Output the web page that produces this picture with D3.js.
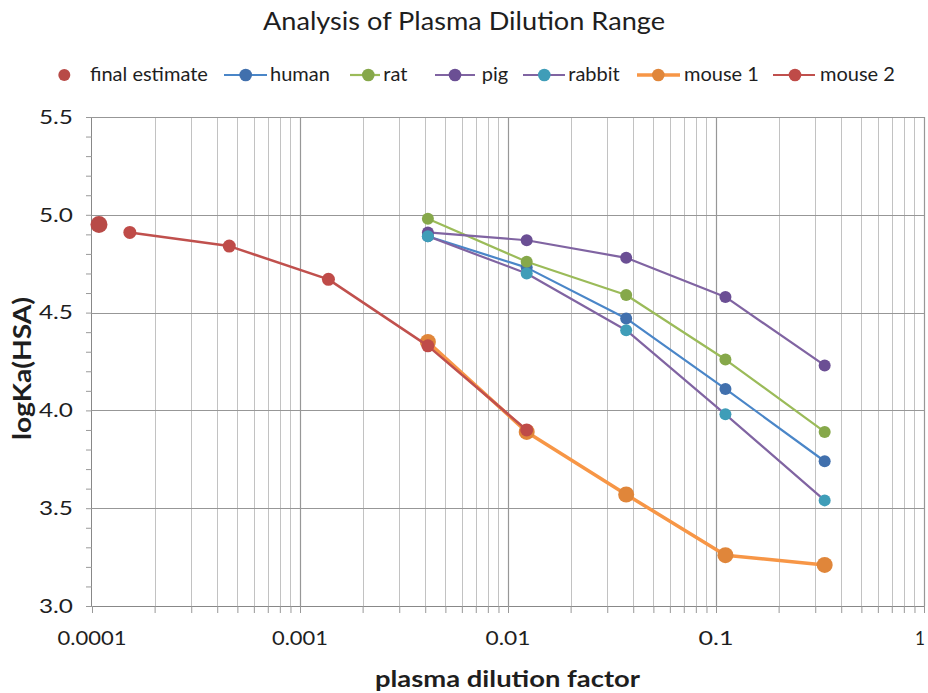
<!DOCTYPE html>
<html>
<head>
<meta charset="utf-8">
<script src="https://cdn.jsdelivr.net/npm/d3@7"></script>
<style>
  html, body { margin: 0; padding: 0; background: #ffffff; }
  svg { display: block; }
  text { font-family: Lato, "Open Sans", sans-serif; fill: #1e1e1e; }
</style>
</head>
<body>
<svg id="chart" width="928" height="693"></svg>
<script>
// ---- Data ----
const seriesNames = ["final estimate", "human", "rat", "pig", "rabbit", "mouse 1", "mouse 2"];
const dilutionX = [0.00412, 0.0123, 0.037, 0.111, 0.333];
const mouse2X = [0.000152, 0.000457, 0.00137, 0.00412, 0.0123];
const finalX = [0.000108];
const finalY = [4.95];
const humanY = [4.89, 4.73, 4.47, 4.11, 3.74];
const ratY = [4.98, 4.76, 4.59, 4.26, 3.89];
const pigY = [4.91, 4.87, 4.78, 4.58, 4.23];
const rabbitY = [4.89, 4.70, 4.41, 3.98, 3.54];
const mouse1Y = [4.35, 3.89, 3.57, 3.26, 3.21];
const mouse2Y = [4.91, 4.84, 4.67, 4.33, 3.90];
const xTickLabels = ["0.0001", "0.001", "0.01", "0.1", "1"];
const yTickLabels = ["3.0", "3.5", "4.0", "4.5", "5.0", "5.5"];

(function () {
// ---- Styles ----
const styles = {
  "final estimate": { line: null, marker: "#B84A47", r: 8.5, w: 0 },
  "human":   { line: "#4A86C8", marker: "#4170AD", r: 6, w: 2.2 },
  "rat":     { line: "#9BBB59", marker: "#86A84A", r: 6, w: 2.2 },
  "pig":     { line: "#8064A2", marker: "#6B4F94", r: 6, w: 2.2 },
  "rabbit":  { line: "#8064A2", marker: "#3F9DB8", r: 6, w: 2.2 },
  "mouse 1": { line: "#F79646", marker: "#E0863A", r: 8, w: 3.5 },
  "mouse 2": { line: "#C0504D", marker: "#BF4B48", r: 6.5, w: 2.5 }
};

const series = [
  { name: "final estimate", x: finalX, y: finalY },
  { name: "human", x: dilutionX, y: humanY },
  { name: "rat", x: dilutionX, y: ratY },
  { name: "pig", x: dilutionX, y: pigY },
  { name: "rabbit", x: dilutionX, y: rabbitY },
  { name: "mouse 1", x: dilutionX, y: mouse1Y },
  { name: "mouse 2", x: mouse2X, y: mouse2Y }
];

const svg = d3.select("#chart");
const pLeft = 92, pRight = 924, pTop = 117, pBottom = 606;

const x = d3.scaleLog().domain([0.0001, 1]).range([pLeft, pRight]);
const y = d3.scaleLinear().domain([3.0, 5.5]).range([pBottom, pTop]);

// Gridlines
const minorX = [];
for (let e = -4; e < 0; e++) {
  for (let m = 2; m <= 9; m++) minorX.push(m * Math.pow(10, e));
}
const majorX = xTickLabels.map(Number);
const grid = svg.append("g");
grid.selectAll(".mx").data(minorX).join("line")
  .attr("x1", d => Math.round(x(d)) + 0.5).attr("x2", d => Math.round(x(d)) + 0.5)
  .attr("y1", pTop).attr("y2", pBottom)
  .attr("stroke", "#c2c2c2").attr("stroke-width", 1);
grid.selectAll(".Mx").data(majorX.slice(1)).join("line")
  .attr("x1", d => Math.round(x(d)) + 0.5).attr("x2", d => Math.round(x(d)) + 0.5)
  .attr("y1", pTop).attr("y2", pBottom)
  .attr("stroke", "#979797").attr("stroke-width", 1.2);
const majorY = yTickLabels.map(Number);
grid.selectAll(".My").data(majorY.slice(1)).join("line")
  .attr("x1", pLeft).attr("x2", pRight)
  .attr("y1", d => Math.round(y(d)) + 0.5).attr("y2", d => Math.round(y(d)) + 0.5)
  .attr("stroke", "#979797").attr("stroke-width", 1.2);

// Axes
const xAxis = d3.axisBottom(x)
  .tickValues(minorX.concat(majorX))
  .tickSize(7).tickFormat("");
const gx = svg.append("g").attr("transform", `translate(0,${pBottom})`).call(xAxis);
gx.select(".domain").attr("stroke", "#888").attr("d", `M${pLeft},0.5H${pRight}`);
gx.selectAll(".tick line").attr("stroke", "#999");

const xLabelWidths = [69, 56, 45, 35, 10];
svg.append("g").selectAll("text").data(majorX).join("text")
  .attr("x", d => Math.min(x(d), 920)).attr("y", pBottom + 39)
  .attr("text-anchor", "middle")
  .attr("font-size", 19)
  .attr("textLength", (d, i) => xLabelWidths[i])
  .attr("lengthAdjust", "spacingAndGlyphs")
  .text((d, i) => xTickLabels[i]);

const minorY = d3.range(30, 56).map(v => v / 10);
const yAxis = d3.axisLeft(y).tickValues(minorY).tickSize(6).tickFormat("");
const gy = svg.append("g").attr("transform", `translate(${pLeft},0)`).call(yAxis);
gy.select(".domain").attr("stroke", "#888").attr("d", `M-0.5,${pTop}V${pBottom}`);
gy.selectAll(".tick line").attr("stroke", "#999");

svg.append("g").selectAll("text").data(majorY).join("text")
  .attr("x", 73).attr("y", d => y(d) + 6.7)
  .attr("text-anchor", "end")
  .attr("font-size", 18.5)
  .attr("textLength", 34)
  .attr("lengthAdjust", "spacingAndGlyphs")
  .text((d, i) => yTickLabels[i]);

// Series
const line = d3.line().x(d => x(d[0])).y(d => y(d[1]));
const plot = svg.append("g");
series.forEach(s => {
  const st = styles[s.name];
  const pts = s.x.map((v, i) => [v, s.y[i]]);
  if (st.line) {
    plot.append("path").datum(pts)
      .attr("d", line).attr("fill", "none")
      .attr("stroke", st.line).attr("stroke-width", st.w)
      .attr("stroke-linejoin", "round");
  }
  plot.append("g").selectAll("circle").data(pts).join("circle")
    .attr("cx", d => x(d[0])).attr("cy", d => y(d[1]))
    .attr("r", st.r).attr("fill", st.marker);
});

// Title
svg.append("text").attr("x", 263).attr("y", 30)
  .attr("font-size", 24.5)
  .attr("textLength", 402).attr("lengthAdjust", "spacingAndGlyphs")
  .text("Analysis of Plasma Dilution Range");

// Axis titles
svg.append("text").attr("x", 375).attr("y", 687)
  .attr("font-size", 22).attr("font-weight", "bold")
  .attr("textLength", 265).attr("lengthAdjust", "spacingAndGlyphs")
  .text("plasma dilution factor");
svg.append("text")
  .attr("transform", "translate(31,440) rotate(-90)")
  .attr("font-size", 24).attr("font-weight", "bold")
  .attr("textLength", 143).attr("lengthAdjust", "spacingAndGlyphs")
  .text("logKa(HSA)");

// Legend
const legendPos = [
  { name: "final estimate", lx: null, mx: 64.3, tx: 90 },
  { name: "human", lx: [224, 267], mx: 245.7, tx: 270 },
  { name: "rat", lx: [350, 380], mx: 368.3, tx: 383.3 },
  { name: "pig", lx: [435, 475], mx: 455, tx: 481.7 },
  { name: "rabbit", lx: [523, 565], mx: 544.3, tx: 568.3 },
  { name: "mouse 1", lx: [637, 680], mx: 658.3, tx: 684 },
  { name: "mouse 2", lx: [773, 815], mx: 795, tx: 820 }
];
const leg = svg.append("g");
const ly = 75;
legendPos.forEach(p => {
  const st = styles[p.name];
  if (p.lx) {
    leg.append("line").attr("x1", p.lx[0]).attr("x2", p.lx[1])
      .attr("y1", ly).attr("y2", ly)
      .attr("stroke", st.line).attr("stroke-width", p.name === "mouse 1" ? 3.5 : 2.2);
  }
  leg.append("circle").attr("cx", p.mx).attr("cy", ly)
    .attr("r", p.name === "final estimate" ? 6 : 6.3).attr("fill", st.marker);
  leg.append("text").attr("x", p.tx).attr("y", ly + 6)
    .attr("font-size", 20)
    .text(p.name);
});
})();
</script>
</body>
</html>
